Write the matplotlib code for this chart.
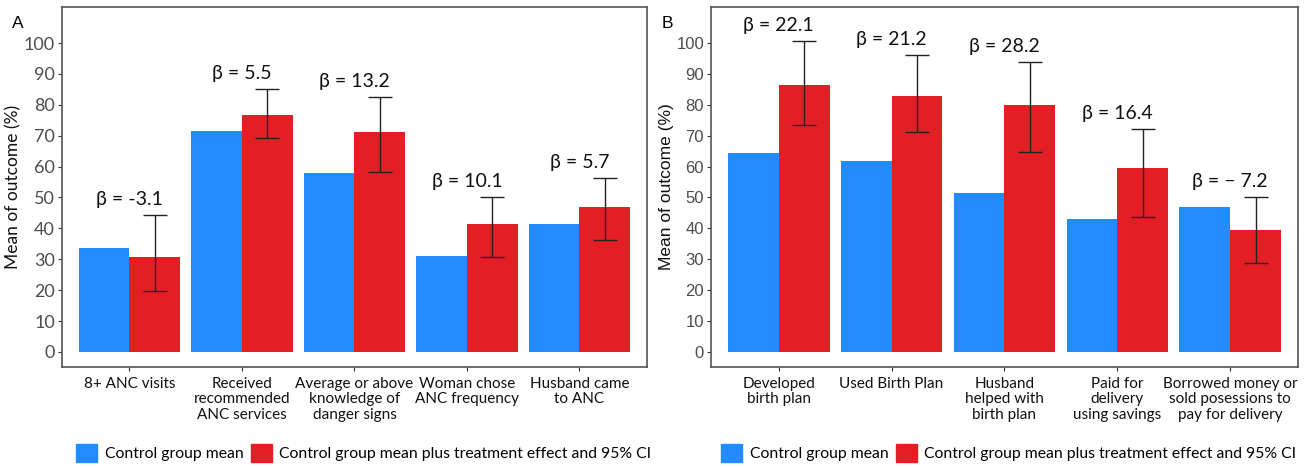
import numpy as np
import matplotlib
matplotlib.use("Agg")
import matplotlib.pyplot as plt
from matplotlib.patches import Patch

# Panel A: antenatal care outcomes
labels_a = ["8+ ANC visits", "Received\nrecommended\nANC services",
            "Average or above\nknowledge of\ndanger signs",
            "Woman chose\nANC frequency", "Husband came\nto ANC"]
control_a = [33.7, 71.4, 58.0, 31.2, 41.4]
treat_a = [30.7, 76.8, 71.2, 41.3, 47.0]
ci_low_a = [19.8, 69.4, 58.2, 30.8, 36.2]
ci_high_a = [44.4, 85.1, 82.5, 50.2, 56.2]
beta_a = ["β = -3.1", "β = 5.5", "β = 13.2", "β = 10.1", "β = 5.7"]

# Panel B: birth preparedness outcomes
labels_b = ["Developed\nbirth plan", "Used Birth Plan",
            "Husband\nhelped with\nbirth plan",
            "Paid for\ndelivery\nusing savings",
            "Borrowed money or\nsold posessions to\npay for delivery"]
control_b = [64.4, 61.8, 51.6, 43.0, 46.8]
treat_b = [86.4, 83.0, 79.8, 59.4, 39.5]
ci_low_b = [73.4, 71.3, 64.7, 43.8, 28.7]
ci_high_b = [100.8, 96.2, 94.0, 72.2, 50.2]
beta_b = ["β = 22.1", "β = 21.2", "β = 28.2", "β = 16.4", "β = − 7.2"]

yticks = list(range(0, 101, 10))

BLUE = "#228BFF"
RED = "#E31E24"
GREY = "#4D4D4D"

fig = plt.figure(figsize=(13.07, 4.67), dpi=100)
ax_a = fig.add_axes([0.0474, 0.2141, 0.4476, 0.771])
ax_b = fig.add_axes([0.5440, 0.2141, 0.4491, 0.771])


def draw_panel(ax, labels, control, treat, lo, hi, betas, tickfont, ticksize, legend_x):
    x = np.arange(1, len(labels) + 1)
    w = 0.45
    ax.bar(x - w / 2, control, width=w, color=BLUE, zorder=2)
    ax.bar(x + w / 2, treat, width=w, color=RED, zorder=2)
    treat = np.array(treat)
    err = [treat - np.array(lo), np.array(hi) - treat]
    ax.errorbar(x + w / 2, treat, yerr=err, fmt="none", ecolor="#222222",
                elinewidth=1, capsize=8.5, capthick=1, zorder=3)
    for xi, h, b in zip(x, hi, betas):
        ax.text(xi, h + 5, b, ha="center", va="center", fontsize=14,
                family="Lato", color="#111111")

    ax.set_xlim(0.4, len(labels) + 0.6)
    ax.set_ylim(-4.9, 111.7)
    ax.set_yticks(yticks, labels=[str(v) for v in yticks], fontsize=ticksize,
                  family=tickfont, color=GREY)
    ax.set_xticks(x)
    ax.set_xticklabels(labels, fontsize=11, family="Lato", color="#111111",
                       linespacing=1.15)
    ax.tick_params(axis="both", length=3, color="#333333", width=0.8)
    ax.tick_params(axis="y", pad=2)
    ax.tick_params(axis="x", pad=4)
    ax.set_ylabel("Mean of outcome (%)", fontsize=12.5, family=tickfont,
                  color="#111111", labelpad=2)
    for s in ax.spines.values():
        s.set_color("#555555")
        s.set_linewidth(1.2)

    handles = [Patch(color=BLUE, label="Control group mean"),
               Patch(color=RED, label="Control group mean plus treatment effect and 95% CI")]
    fig.legend(handles=handles, loc="center", bbox_to_anchor=(legend_x, 1 - 453 / 467),
               ncol=2, frameon=False, prop={"family": "Lato", "size": 11.3},
               handlelength=1.3, handleheight=1.45, handletextpad=0.5,
               columnspacing=0.5, borderpad=0.1)


draw_panel(ax_a, labels_a, control_a, treat_a, ci_low_a, ci_high_a, beta_a,
           "Lato", 13, 364 / 1307)
draw_panel(ax_b, labels_b, control_b, treat_b, ci_low_b, ci_high_b, beta_b,
           "Liberation Sans", 12, 1009 / 1307)

fig.text(12 / 1307, 1 - 24 / 467, "A", fontsize=12.5, family="Liberation Sans",
         va="center", ha="left")
fig.text(662 / 1307, 1 - 24 / 467, "B", fontsize=12.5, family="Liberation Sans",
         va="center", ha="left")

fig.savefig("out.png", dpi=100)
